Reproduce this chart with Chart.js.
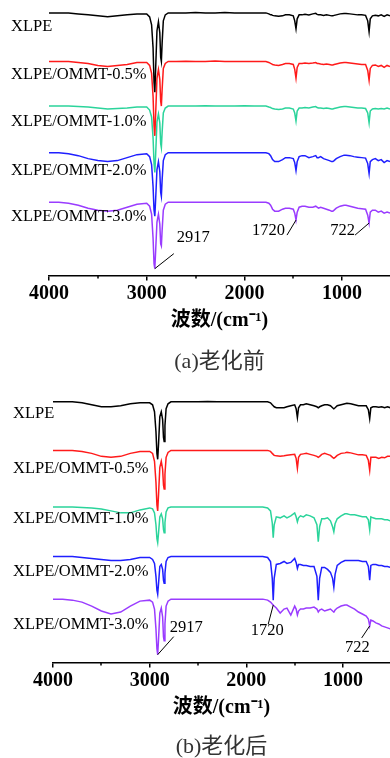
<!DOCTYPE html>
<html>
<head>
<meta charset="utf-8">
<script src="https://cdn.jsdelivr.net/npm/chart.js@4.4.1/dist/chart.umd.min.js"></script>
<style>
html,body{margin:0;padding:0;background:#fff;}
body{width:390px;height:758px;position:relative;overflow:hidden;}
canvas{position:absolute;left:0;}
#chartA{top:0;}
#chartB{top:380px;}
</style>
</head>
<body>
<canvas id="chartA" width="390" height="380"></canvas>
<canvas id="chartB" width="390" height="380"></canvas>
<script>
/* =========================
   FTIR DATA
========================= */

// wavenumber grid (cm-1), shared by every spectrum
const wavenumbers = [
4000,3900,3800,3700,3600,3500,3400,3300,3200,3100,3000,
2970,2950,2935,2925,2917,2908,2895,2880,2866,2857,2850,2842,2830,2810,2780,
2700,2600,2500,2400,2300,2200,2100,2000,1900,
1830,1780,1750,1732,1722,1712,1690,1650,1610,1580,1540,1500,1485,1472,1460,
1440,1410,1380,1340,1300,1270,1256,1242,1220,1190,1160,1130,1108,1095,1082,1060,
1020,980,960,920,880,840,800,760,738,724,712,690,660,630,600,570,540,510
];

const seriesNames = [
"XLPE",
"XLPE/OMMT-0.5%",
"XLPE/OMMT-1.0%",
"XLPE/OMMT-2.0%",
"XLPE/OMMT-3.0%"
];

const xTicks = [4000,3000,2000,1000];
const minorTicks = [3500,2500,1500];

// (a) before ageing - relative transmittance, baseline = 0
const beforeXLPE = [
0,0,0,-1,-2,-3,-4,-3,-2,-1,-1,
-4,-12,-35,-70,-80,-55,-18,-9,-20,-45,-49,-30,-8,-2,0,
0,0,0.5,0,0,0.3,0,0,0,
0,0,-1,-2,-2,-2.5,-3,-3.5,-3,-2,-2,-3,-8,-16,-6,
-2,-2,-1.5,-2,-1,-0.5,-1.5,-2,-2,-2.5,-2,-2.5,-3,-3,-2.5,-2,
-1,-0.5,-0.5,-1,-1.5,-2,-2,-2.5,-8,-19,-6,-3,-2.5,-3,-2,-3.5,-2,-3
];
const before05 = [
0,0,0,-1,-2,-4,-5,-4,-3,-1,-1,
-4,-12,-35,-65,-75,-52,-17,-8,-18,-40,-45,-28,-7,-2,0,
0,0.3,0,0,0.4,0,0,0,0,
0,0,-1,-2,-2.5,-3,-3.5,-4,-3,-2,-2,-3,-8,-17,-6,
-2,-2,-1.5,-2,-1.5,-1,-2,-2,-2.5,-3,-2.5,-3,-3.5,-3.5,-3,-2.5,
-1.5,-1,-1,-1.5,-2,-2.5,-3,-3,-9,-19,-7,-4,-3.5,-5,-4,-6,-4,-5
];
const before10 = [
0,0,0,-0.5,-1,-2,-3,-2.5,-2,-1,-1,
-4,-11,-32,-58,-67,-48,-16,-8,-17,-38,-42,-26,-7,-2,0,
0,0,0,0.3,0,0,0,0.3,0,
0,0,-1,-1.5,-2,-2.5,-3,-3.5,-3,-2,-2,-3,-7,-15,-5,
-2,-2,-1.5,-2,-1,-0.5,-1.5,-2,-2,-2.5,-2,-2.5,-3,-3,-2.5,-2,
-1,-0.5,-0.5,-1,-1.5,-2,-2,-2.5,-7,-17,-5,-3,-2.5,-3,-2.5,-3,-2,-3
];
const before20 = [
0,0,-1,-3,-6,-8,-9,-8,-5,-2,-1,
-4,-12,-34,-58,-64,-46,-17,-9,-19,-40,-44,-27,-8,-2,0,
0,0,0,0,0,0,0,0,0,
0,0,-1,-3,-5,-7,-9,-9,-7,-5,-5,-6,-10,-18,-9,
-4,-3,-3,-5,-4,-3,-5,-5,-4,-6,-7,-8,-9,-9,-8,-6,
-4,-2.5,-2.5,-3,-4,-4.5,-5,-5.5,-11,-21,-9,-7,-6,-8,-7,-10,-8,-9
];
const before30 = [
0,0,-1,-3,-6,-8,-9,-8,-5,-2,-1,
-4,-12,-36,-62,-67,-48,-20,-12,-22,-42,-44,-28,-8,-2,0,
0,0,0,0,0,0,0,0,0,
0,0,-1,-3,-5,-7,-9,-9,-7,-6,-6,-7,-11,-18,-10,
-5,-4,-4,-5,-5,-4,-5,-6,-5,-6,-7,-8,-9,-9,-8,-6,
-4,-3,-3,-4,-5,-6,-6.5,-7,-13,-21,-10,-8,-8,-10,-9,-11,-10,-11
];

// (b) after ageing
const afterXLPE = [
0,0,0,-1,-3,-5,-5,-4,-2,-1,-1,
-3,-10,-30,-52,-58,-42,-15,-10,-18,-36,-40,-24,-7,-2,0,
0,0,0,0.3,0,0,0,0,0,
0,0,-1,-3,-4,-5,-6,-6,-6,-5,-4,-3,-7,-16,-6,
-3,-3,-2,-3,-4,-5,-6,-5,-4,-3,-3,-4,-6,-7,-6,-4,
-3,-2,-1.5,-2,-3,-4,-4,-4,-8,-17,-6,-5,-5,-5.5,-5,-6,-5,-6
];
const after05 = [
0,0,0,-1,-3,-6,-7,-6,-3,-1,-1,
-3,-11,-32,-55,-61,-44,-17,-11,-19,-35,-39,-24,-7,-2,0,
0,0,0,0,0,0,0,0,0,
0,0,-1,-3,-4,-5,-5.5,-6,-5.5,-5,-4.5,-4,-8,-18,-7,
-4,-3.5,-3,-4,-5,-6,-7,-6,-4,-3,-4,-5,-7,-8,-7,-5,
-3,-2.5,-2,-2.5,-3.5,-4.5,-4.5,-5,-10,-20,-7,-7,-7,-8,-7,-7.5,-6,-6
];
const after10 = [
0,0,0,-0.5,-1,-2,-4,-6,-6,-3,-1,
-2,-6,-18,-32,-36,-26,-10,-7,-12,-23,-26,-16,-5,-1,0,
0,0,0,0,0,0,0,0,0,
0,-1,-4,-16,-31,-18,-10,-11,-9,-11,-9,-6,-10,-15,-11,
-9,-10,-8,-9,-11,-18,-35,-20,-12,-12,-11,-14,-20,-25,-17,-12,
-9,-7,-7,-8,-8,-9,-10,-10,-13,-23,-10,-11,-12,-12,-12,-13,-13,-14
];
const after20 = [
0,0,0,-1,-2,-3,-4,-4,-3,-1,-1,
-3,-7,-20,-34,-38,-27,-10,-8,-13,-24,-27,-17,-5,-1,0,
0,0,0,0,0,0,0,0,0,
0,-1,-5,-22,-44,-22,-8,-7,-5,-7,-6,-2,-6,-12,-8,
-8,-9,-9,-10,-10,-20,-44,-22,-11,-11,-13,-16,-22,-31,-18,-9,
-6,-4,-4,-4,-4,-4,-5,-5,-10,-24,-9,-8,-8,-9,-9,-10,-10,-11
];
const after30 = [
0,0,-1,-3,-7,-12,-15,-13,-7,-2,-1,
-3,-10,-30,-50,-56,-40,-14,-9,-18,-38,-42,-25,-7,-2,0,
0,0,0,0,0,0,0,0,0,
0,-1,-3,-5,-6,-7,-9,-14,-10,-9,-16,-7,-10,-16,-12,
-10,-10,-9,-9,-8,-10,-13,-11,-10,-12,-11,-10,-12,-13,-11,-9,
-7,-6,-6,-8,-10,-13,-15,-17,-20,-27,-21,-22,-24,-25,-27,-28,-29,-30
];

// vertical stacking offsets of the spectra
const offsetsBefore = [265,216,171,124,74];
const offsetsAfter = [263,214,157,107,64];

/* =========================
   STYLE
========================= */

const colors = ["#000000","#ff1a1a","#2bd49b","#1f1fff","#9a3cff"];
const serif = '"Liberation Serif", "Noto Sans CJK SC", serif';

Chart.defaults.font.family = serif;
Chart.defaults.color = "#000";

// labels, minor ticks and peak marks
const specPlugin = {
id:"specMarks",
afterDatasetsDraw(chart, args, opts){
const ctx = chart.ctx;
const xs = chart.scales.x;
const ys = chart.scales.y;
const area = chart.chartArea;
ctx.save();

// minor ticks
ctx.strokeStyle = "#000";
ctx.lineWidth = 1.5;
minorTicks.forEach(v=>{
const px = Math.round(xs.getPixelForValue(v));
ctx.beginPath();
ctx.moveTo(px, area.bottom);
ctx.lineTo(px, area.bottom+3);
ctx.stroke();
});

// series names
ctx.fillStyle = "#000";
ctx.font = "16.5px " + serif;
ctx.textBaseline = "middle";
ctx.textAlign = "left";
seriesNames.forEach((name,i)=>{
ctx.fillText(name, opts.labelX, ys.getPixelForValue(opts.offsets[i]) + opts.labelDy[i]);
});

// peak marks with leader lines
ctx.lineWidth = 1;
opts.marks.forEach(m=>{
const k = wavenumbers.indexOf(m.wn);
const px = xs.getPixelForValue(m.wn);
const py = ys.getPixelForValue(opts.offsets[m.series] + opts.values[m.series][k]);
ctx.beginPath();
ctx.moveTo(px, py);
ctx.lineTo(px + m.line[0], py + m.line[1]);
ctx.stroke();
ctx.textAlign = m.align;
ctx.fillText(m.text, px + m.text_at[0], py + m.text_at[1]);
});

ctx.restore();
}
};

function buildChart(id, values, offsets, opts){

const datasets = values.map((vals,i)=>({
label: seriesNames[i],
data: wavenumbers.map((w,k)=>({x:w, y:offsets[i] + vals[k]})),
borderColor: colors[i],
borderWidth: 1.5,
pointRadius: 0,
fill: false,
tension: 0
}));

return new Chart(document.getElementById(id),{
type:"line",
data:{datasets},
plugins:[specPlugin],
options:{
responsive:false,
animation:false,
devicePixelRatio:1,
layout:{padding:{left:opts.left, right:0, top:0, bottom:0}},
plugins:{
legend:{display:false},
tooltip:{enabled:false},
title:{
display:true,
position:"bottom",
text:opts.caption,
color:"#333",
font:{size:22, weight:"normal", family:serif},
padding:{top:opts.capTop, bottom:opts.capBottom}
},
specMarks:{
labelX: opts.labelX,
labelDy: opts.labelDy,
offsets: offsets,
values: values,
marks: opts.marks
}
},
scales:{
x:{
type:"linear",
reverse:true,
min:opts.xMin,
max:4000,
afterBuildTicks:(s)=>{ s.ticks = xTicks.map(v=>({value:v})); },
border:{display:true, color:"#000", width:1.5},
grid:{drawOnChartArea:false, drawTicks:true, tickLength:5, color:"#000", lineWidth:1.5},
ticks:{
color:"#000",
padding:2,
maxRotation:0,
callback:(v)=>String(v),
font:{size:20, weight:"bold", lineHeight:1.1}
},
title:{
display:true,
text:"波数/(cm⁻¹)",
color:"#000",
font:{size:20, weight:"bold", lineHeight:1.2},
padding:{top:2, bottom:2}
}
},
y:{
display:false,
min:0,
max:opts.yMax
}
}
}
});
}

buildChart("chartA",
[beforeXLPE,before05,before10,before20,before30],
offsetsBefore,
{
left:49, xMin:510, yMax:278,
caption:"(a)老化前", capTop:14, capBottom:5,
labelX:11, labelDy:[14,13,16,18,14],
marks:[
{text:"2917", wn:2917, series:4, line:[19,-15], text_at:[22,-31], align:"left"},
{text:"1720", wn:1472, series:4, line:[-9,15], text_at:[-11,11], align:"right"},
{text:"722", wn:724, series:4, line:[-14,12], text_at:[-14,8], align:"right"}
]
});

buildChart("chartB",
[afterXLPE,after05,after10,after20,after30],
offsetsAfter,
{
left:53, xMin:514, yMax:285,
caption:"(b)老化后", capTop:12, capBottom:0,
labelX:13, labelDy:[12,18,12,15,26],
marks:[
{text:"2917", wn:2917, series:4, line:[16,-18], text_at:[12,-27], align:"left"},
{text:"1720", wn:1722, series:4, line:[-5,19], text_at:[-6,26], align:"center"},
{text:"722", wn:724, series:4, line:[-8,12], text_at:[0,22], align:"right"}
]
});
</script>
</body>
</html>
